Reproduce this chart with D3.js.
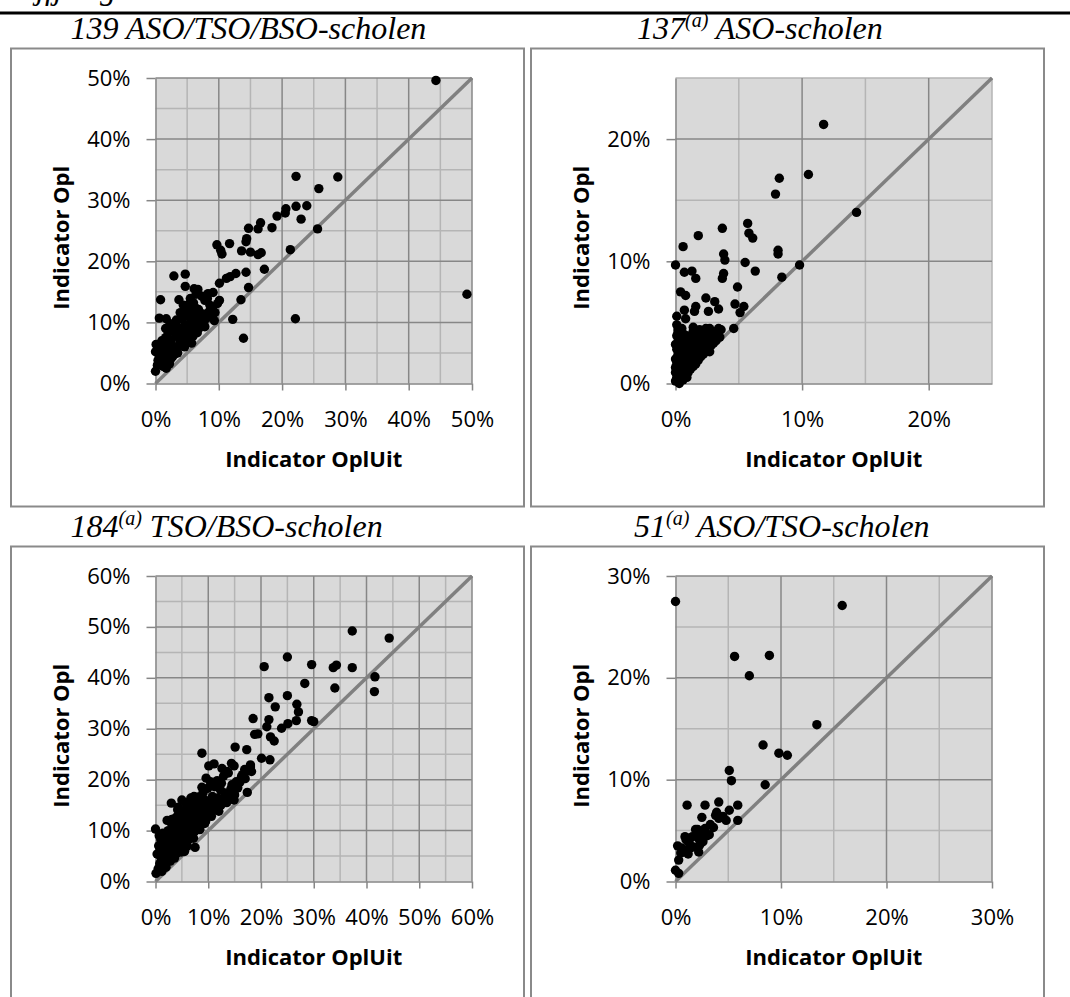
<!DOCTYPE html>
<html>
<head>
<meta charset="utf-8">
<script src="https://cdn.jsdelivr.net/npm/d3@7"></script>
<style>
  html, body { margin: 0; padding: 0; background: #ffffff; }
  svg { display: block; }
</style>
</head>
<body>
<svg id="chart" width="1070" height="997"></svg>
<script>
// ---------------- DATA (values in %) ----------------
const titles = [
  { main: "139", sup: "", rest: " ASO/TSO/BSO-scholen" },
  { main: "137", sup: "(a)", rest: " ASO-scholen" },
  { main: "184", sup: "(a)", rest: " TSO/BSO-scholen" },
  { main: "51",  sup: "(a)", rest: " ASO/TSO-scholen" }
];
const axisMax = [50, 25, 60, 30];
const majorTicks = [
  [0, 10, 20, 30, 40, 50],
  [0, 10, 20],
  [0, 10, 20, 30, 40, 50, 60],
  [0, 10, 20, 30]
];
const xTitle = "Indicator OplUit";
const yTitle = "Indicator Opl";
const headerText = "Vijfjarige scholen";

// [Indicator OplUit, Indicator Opl]
const schools139 = [
  [44.3,49.6],[49.2,14.6],[22.2,33.9],[28.8,33.8],[25.8,31.9],[23.9,29.1],[22.2,29.0],[20.6,28.6],[20.5,27.9],[23.0,26.9],
  [19.2,27.4],[18.4,25.5],[25.6,25.3],[16.6,26.3],[16.2,25.3],[14.7,25.4],[14.4,23.7],[14.3,23.2],[21.3,21.9],[16.7,21.4],
  [16.2,21.1],[15.0,21.5],[13.6,21.7],[9.7,22.7],[11.7,22.9],[10.5,21.2],[10.3,21.8],[17.2,18.7],[14.3,18.2],[12.7,18.0],
  [11.8,17.5],[11.2,17.2],[10.1,16.4],[14.7,15.7],[13.5,13.7],[12.2,10.5],[22.1,10.6],[13.9,7.4],[2.9,17.6],[4.7,17.9],
  [4.7,15.9],[6.1,15.5],[6.7,15.4],[0.8,13.7],[3.7,13.7],[5.5,13.9],[8.3,14.7],[9.1,14.9],[7.8,13.6],[10.1,13.6],
  [9.8,13.1],[8.6,12.8],[0.6,10.7],[1.7,10.6],[1.6,9.0],[9.3,10.3],[4.6,12.3],[5.4,11.7],[6.2,12.5],[4.2,10.6],
  [5.6,10.3],[6.7,11.2],[7.2,9.8],[6.4,9.3],[3.5,8.7],[5.1,8.4],[4.5,7.6],[2.5,7.1],[3.8,6.5],[4.6,6.0],
  [3.0,5.7],[2.2,5.2],[0.1,6.4],[0.0,5.2],[0.6,4.4],[1.4,4.1],[2.7,4.4],[0.0,2.0],[1.7,2.5],[0.9,3.3],
  [1.9,3.5],[0.4,3.8],[5.2,12.9],[6.0,13.2],[6.8,12.1],[7.5,11.4],[8.0,10.6],[7.0,10.2],[6.0,9.8],[5.0,9.6],
  [4.3,9.2],[5.8,8.9],[6.6,8.3],[7.8,9.3],[8.5,11.8],[9.0,12.3],[8.2,13.9],[7.3,14.3],[6.4,14.6],[5.9,12.2],
  [4.9,11.1],[3.9,11.6],[2.3,9.8],[3.2,9.6],[4.0,8.0],[3.2,7.8],[2.0,6.5],[1.3,5.6],[1.8,4.9],[3.5,5.0],
  [4.1,6.8],[5.3,7.3],[5.9,7.7],[2.6,6.1],[1.1,5.0],[0.5,5.7],[0.3,3.0],[1.2,2.8],[2.2,3.2],[1.5,3.9],
  [2.4,4.0],[3.0,4.8],[3.6,6.0],[4.8,7.0],[5.5,8.1],[6.9,9.1],[7.6,10.6],[8.8,11.0],[9.4,11.6],[4.4,12.8],
  [3.3,10.4],[2.0,8.3],[2.8,8.8],[1.0,7.0],[0.8,6.3],[1.6,7.5],[3.9,7.2],[5.7,6.6],[6.3,10.9]
];

const schools137 = [
  [11.7,21.2],[10.5,17.1],[8.2,16.8],[7.9,15.5],[14.3,14.0],[5.7,13.1],[5.8,12.3],[6.1,11.9],[3.7,12.7],[1.8,12.1],
  [0.6,11.2],[8.1,10.9],[8.1,10.6],[3.8,10.6],[3.9,10.1],[5.5,9.9],[9.8,9.7],[0.0,9.7],[0.7,9.1],[1.3,9.2],
  [1.6,8.6],[3.8,9.0],[3.7,8.6],[6.3,9.2],[8.4,8.7],[4.9,7.9],[0.4,7.5],[0.8,7.2],[2.4,7.0],[3.1,6.7],
  [3.4,6.1],[4.7,6.5],[5.4,6.3],[5.1,5.8],[2.6,5.9],[1.6,6.3],[1.5,5.9],[0.7,6.0],[0.8,5.3],[0.1,5.5],
  [0.1,4.8],[0.2,4.4],[1.4,4.6],[2.4,4.5],[3.4,4.5],[4.6,4.5],[3.1,3.8],[2.7,2.6],[0.7,3.8],[1.9,3.7],
  [0.0,0.2],[0.1,0.5],[0.0,0.9],[0.2,1.2],[0.1,1.6],[0.0,2.0],[0.2,2.4],[0.1,2.8],[0.0,3.2],[0.3,3.6],
  [0.4,0.4],[0.5,0.9],[0.6,1.3],[0.4,1.8],[0.5,2.2],[0.7,2.6],[0.6,3.0],[0.4,3.4],[0.8,0.7],[0.9,1.1],
  [1.0,1.5],[0.8,1.9],[1.1,2.3],[0.9,2.7],[1.0,3.1],[0.8,3.5],[0.7,4.0],[1.2,1.2],[1.3,1.7],[1.4,2.1],
  [1.2,2.6],[1.5,3.0],[1.3,3.4],[1.1,3.9],[1.6,1.6],[1.7,2.0],[1.8,2.5],[1.6,2.9],[1.9,3.3],[1.7,3.8],
  [2.0,2.2],[2.1,2.7],[2.2,3.1],[2.0,3.6],[2.3,4.0],[2.4,2.6],[2.5,3.0],[2.6,3.5],[2.4,4.1],[2.8,3.1],
  [2.9,3.6],[3.0,4.2],[3.2,3.5],[3.3,4.0],[3.6,4.4],[0.3,0.0],[0.6,0.3],[0.2,4.2],[0.5,4.5],[1.4,4.3],
  [1.9,4.4],[2.7,4.5],[3.5,3.8],[0.9,0.5],[0.0,1.3],[0.3,2.0],[0.7,1.6],[1.2,2.9],[0.2,3.0],[0.6,2.0],
  [1.8,1.9],[2.2,2.4],[1.0,0.9],[1.4,1.4],[0.1,3.9],[2.6,2.9],[3.0,3.3],[1.5,2.4],[0.9,3.2],[0.4,1.0],
  [2.1,3.4],[1.3,3.7],[0.5,2.8],[0.8,2.3],[1.7,3.1],[3.1,3.8],[2.8,4.2]
];

const schools184 = [
  [37.3,49.2],[44.3,47.8],[25.0,44.1],[20.6,42.2],[29.6,42.6],[33.7,42.0],[34.3,42.5],[37.3,42.0],[41.6,40.2],[28.3,38.9],
  [34.0,38.0],[41.5,37.3],[21.5,36.1],[25.0,36.5],[22.7,34.3],[26.8,34.8],[27.1,33.3],[26.7,31.6],[18.5,32.0],[21.5,31.8],
  [21.1,30.4],[23.9,30.1],[25.1,31.0],[29.6,31.6],[30.0,31.4],[18.8,28.9],[19.4,29.0],[21.8,28.4],[22.5,27.6],[15.1,26.4],
  [17.3,25.9],[8.8,25.2],[20.1,24.2],[21.7,23.9],[10.1,22.7],[11.1,23.1],[12.6,22.2],[14.4,23.2],[13.6,21.6],[16.9,22.0],
  [18.0,22.5],[18.2,21.6],[16.3,20.6],[15.3,19.6],[14.5,19.0],[9.6,20.3],[10.4,19.6],[11.2,18.6],[12.5,19.3],[8.8,18.5],
  [13.1,16.7],[14.9,17.2],[14.9,16.0],[17.4,17.5],[12.2,16.0],[10.6,16.0],[9.3,16.0],[7.3,16.7],[11.2,14.1],[3.0,15.4],
  [5.0,16.0],[6.0,15.4],[8.0,14.7],[4.2,14.1],[3.1,12.2],[4.7,12.7],[6.6,13.4],[8.7,12.4],[9.3,11.4],[7.5,6.7],
  [0.0,10.3],[1.6,9.2],[0.1,1.6],[5.5,5.9],
  [0.5,2.5],[0.8,3.5],[1.0,4.8],[1.2,6.0],[0.6,7.0],[1.0,8.2],[1.5,3.2],[1.8,4.2],[2.0,5.5],[1.6,6.8],
  [2.2,7.6],[2.5,8.8],[1.4,9.5],[2.8,4.0],[3.0,5.2],[3.2,6.4],[2.6,6.0],[3.4,7.5],[3.0,8.4],[3.6,9.3],
  [3.3,10.5],[2.4,10.0],[4.0,5.5],[4.2,6.8],[4.5,8.0],[4.0,9.0],[4.4,10.2],[4.8,11.2],[3.8,11.8],[5.0,6.5],
  [5.3,7.6],[5.5,8.8],[5.2,10.0],[5.6,11.0],[5.9,12.0],[5.0,12.8],[4.6,13.5],[6.0,7.0],[6.3,8.2],[6.5,9.5],
  [6.2,10.6],[6.8,11.5],[7.0,12.6],[6.5,13.6],[5.8,14.3],[7.2,8.5],[7.4,9.8],[7.6,10.8],[7.9,11.9],[8.0,13.0],
  [7.6,14.0],[6.9,15.0],[8.4,10.2],[8.6,11.3],[8.9,12.5],[9.2,13.6],[8.7,14.5],[8.2,15.3],[9.5,11.8],[9.8,13.0],
  [10.0,14.2],[10.3,15.0],[9.6,15.8],[10.6,12.8],[11.0,14.0],[11.4,15.3],[11.8,16.4],[10.8,16.7],[12.0,13.8],[12.4,15.0],
  [12.8,16.2],[13.2,17.4],[12.3,18.0],[13.5,15.5],[13.9,16.8],[14.3,18.2],[15.0,17.0],[15.6,18.4],[16.0,19.5],[16.5,21.0],
  [17.0,20.2],[17.5,21.8],[18.0,22.9],[1.2,2.0],[2.0,2.8],[0.3,5.4],[0.7,9.0],[1.9,8.0],[3.6,4.6],[4.9,5.8],
  [2.9,11.6],[3.5,12.3],[4.1,12.8],[5.4,13.3],[6.1,14.7],[7.3,16.2],[8.1,16.6],[9.0,17.4],[9.9,18.3],[10.8,18.9],
  [11.7,19.8],[12.9,20.7],[13.8,21.3],[14.9,22.7],[5.7,15.5],[4.3,14.6],[6.7,16.4],[2.2,12.0]
];

const schools51 = [
  [0.0,27.5],[15.8,27.1],[5.6,22.1],[8.9,22.2],[7.0,20.2],[13.4,15.4],[8.3,13.4],[9.8,12.6],[10.6,12.4],[5.1,10.9],
  [5.3,9.9],[8.5,9.5],[1.1,7.5],[2.8,7.5],[4.1,7.8],[5.9,7.5],[2.5,6.3],[3.8,6.5],[5.1,7.0],[4.1,6.2],
  [4.8,6.0],[5.9,6.0],[3.6,5.3],[2.1,5.1],[0.9,4.4],[2.5,4.7],[3.0,4.5],[2.2,4.2],[1.3,3.8],[1.7,3.4],
  [2.2,2.9],[0.2,3.5],[0.5,2.8],[0.3,2.1],[0.0,1.1],[0.3,0.8],[2.6,3.9],[3.2,4.6],[1.4,3.3],[0.9,2.9],
  [1.9,5.1],[1.0,4.1],[1.6,4.4],[2.8,5.2],[3.3,5.6],[4.5,6.4],[2.3,3.6],[1.2,2.7],[0.6,3.3],[3.9,6.8],
  [2.0,4.8]
];
const datasets = [schools139, schools137, schools184, schools51];

// ---------------- LAYOUT / STYLE ----------------
const colOffset = [0, 520];
const rowOffset = [0, 498];
const base = {
  box: { x: 11, y: 48.5, w: 513, h: 458 },
  plot: { x: 155.5, y: 78, w: 316.5, h: 305.5 },
  titleX: [70.5, 637, 70.5, 634],
  titleY: 38.5
};
const C = {
  bg: "#d9d9d9", major: "#878787", minor: "#b5b5b5", axis: "#868686",
  diag: "#808080", border: "#8a8a8a", dot: "#000000"
};
const sansFont = "'Open Sans', 'DejaVu Sans', sans-serif";
const serifFont = "'Liberation Serif', 'Times New Roman', serif";

const svg = d3.select("#chart");
svg.append("rect").attr("width", 1070).attr("height", 997).attr("fill", "#fff");

// header (cut off at the top edge, as in the reference) and rule
svg.append("text").attr("x", 10).attr("y", -1)
  .attr("font-family", serifFont).attr("font-style", "italic").attr("font-size", 32)
  .attr("fill", "#000").text(headerText);
svg.append("line").attr("x1", 0).attr("x2", 1070).attr("y1", 13).attr("y2", 13)
  .attr("stroke", "#000").attr("stroke-width", 3);

datasets.forEach((data, i) => {
  const col = i % 2, row = Math.floor(i / 2);
  const dx = colOffset[col], dy = rowOffset[row];
  const max = axisMax[i];
  const g = svg.append("g");

  // panel border
  g.append("rect")
    .attr("x", base.box.x + dx).attr("y", base.box.y + dy)
    .attr("width", base.box.w).attr("height", row === 1 ? 480 : base.box.h)
    .attr("fill", "none").attr("stroke", C.border).attr("stroke-width", 2);

  // title
  const t = titles[i];
  const tt = g.append("text")
    .attr("x", base.titleX[i]).attr("y", base.titleY + dy)
    .attr("font-family", serifFont).attr("font-style", "italic")
    .attr("font-size", 32).attr("fill", "#000");
  tt.append("tspan").text(t.main);
  if (t.sup) {
    tt.append("tspan").attr("font-size", 20).attr("dy", -12).text(t.sup);
    tt.append("tspan").attr("dy", 12).text(t.rest);
  } else {
    tt.append("tspan").text(t.rest);
  }

  const px = base.plot.x + dx, py = base.plot.y + dy;
  const pw = base.plot.w, ph = base.plot.h;
  const x = d3.scaleLinear().domain([0, max]).range([px, px + pw]);
  const y = d3.scaleLinear().domain([0, max]).range([py + ph, py]);

  g.append("rect").attr("x", px).attr("y", py).attr("width", pw).attr("height", ph)
    .attr("fill", C.bg);

  const minorTicks = d3.range(5, max + 0.001, 10);
  const majors = majorTicks[i];
  // minor grid
  g.append("g").selectAll("line").data(minorTicks).join("line")
    .attr("x1", d => x(d)).attr("x2", d => x(d)).attr("y1", py).attr("y2", py + ph)
    .attr("stroke", C.minor).attr("stroke-width", 1.5);
  g.append("g").selectAll("line").data(minorTicks).join("line")
    .attr("y1", d => y(d)).attr("y2", d => y(d)).attr("x1", px).attr("x2", px + pw)
    .attr("stroke", C.minor).attr("stroke-width", 1.5);
  // major grid
  g.append("g").selectAll("line").data(majors.filter(d => d > 0)).join("line")
    .attr("x1", d => x(d)).attr("x2", d => x(d)).attr("y1", py).attr("y2", py + ph)
    .attr("stroke", C.major).attr("stroke-width", 1.5);
  g.append("g").selectAll("line").data(majors.filter(d => d > 0)).join("line")
    .attr("y1", d => y(d)).attr("y2", d => y(d)).attr("x1", px).attr("x2", px + pw)
    .attr("stroke", C.major).attr("stroke-width", 1.5);

  // axes
  const fmt = d => d + "%";
  const ax = g.append("g").attr("transform", `translate(0,${py + ph})`)
    .call(d3.axisBottom(x).tickValues(majors).tickFormat(fmt).tickSize(7).tickSizeOuter(0).tickPadding(21));
  const ay = g.append("g").attr("transform", `translate(${px},0)`)
    .call(d3.axisLeft(y).tickValues(majors).tickFormat(fmt).tickSize(9).tickSizeOuter(0).tickPadding(16));
  [ax, ay].forEach(a => {
    a.select(".domain").attr("stroke", C.axis).attr("stroke-width", 1.5);
    a.selectAll(".tick line").attr("stroke", C.axis).attr("stroke-width", 1.5);
    a.selectAll(".tick text").attr("font-family", sansFont).attr("font-size", 22).attr("fill", "#000");
  });

  // axis titles
  g.append("text").attr("x", px + pw / 2).attr("y", py + ph + 83)
    .attr("text-anchor", "middle").attr("font-family", sansFont).attr("font-weight", "bold")
    .attr("font-size", 22).attr("fill", "#000").text(xTitle);
  g.append("text")
    .attr("transform", `translate(${px - 87},${py + ph / 2 + 7}) rotate(-90)`)
    .attr("text-anchor", "middle").attr("font-family", sansFont).attr("font-weight", "bold")
    .attr("font-size", 22).attr("fill", "#000").text(yTitle);

  // diagonal reference line
  g.append("line")
    .attr("x1", x(0)).attr("y1", y(0)).attr("x2", x(max)).attr("y2", y(max))
    .attr("stroke", C.diag).attr("stroke-width", 3.5);

  // points
  g.append("g").selectAll("circle").data(data).join("circle")
    .attr("cx", d => x(d[0])).attr("cy", d => y(d[1])).attr("r", 4.7)
    .attr("fill", C.dot);
});
</script>
</body>
</html>
